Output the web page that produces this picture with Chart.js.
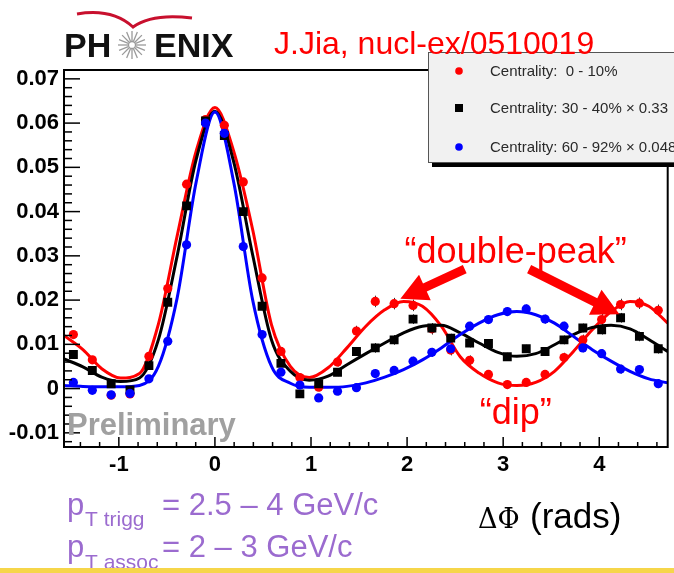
<!DOCTYPE html>
<html>
<head>
<meta charset="utf-8">
<script src="https://cdn.jsdelivr.net/npm/chart.js@4.4.0/dist/chart.umd.min.js"></script>
<style>
  html, body { margin: 0; padding: 0; background: #fff; }
  #wrap { width: 674px; height: 573px; }
</style>
</head>
<body>
<div id="wrap"><canvas id="chart" width="674" height="573"></canvas></div>
<script>
// axis range (rads) and y range
const xMin = -Math.PI / 2;
const xMax = 3 * Math.PI / 2;
const yMin = -0.0132;
const yMax = 0.0720;

// bin centres, 32 bins of pi/16
const binX = [-1.473, -1.276, -1.080, -0.884, -0.687, -0.491, -0.295, -0.098,
  0.098, 0.295, 0.491, 0.687, 0.884, 1.080, 1.276, 1.473,
  1.669, 1.865, 2.062, 2.258, 2.454, 2.651, 2.847, 3.043,
  3.240, 3.436, 3.633, 3.829, 4.025, 4.222, 4.418, 4.614];

// measured points
const central = [0.0122, 0.0065, -0.0015, -0.0012, 0.0073, 0.0226, 0.0462, 0.0608,
  0.0595, 0.0467, 0.0250, 0.0084, 0.0025, 0.0003, 0.0060, 0.0130,
  0.0197, 0.0192, 0.0188, 0.0135, 0.0087, 0.0064, 0.0032, 0.0009,
  0.0014, 0.0032, 0.0070, 0.0110, 0.0156, 0.0190, 0.0193, 0.0177];
const midCentral = [0.0077, 0.0041, 0.0011, -0.0003, 0.0052, 0.0195, 0.0413, 0.0605,
  0.0572, 0.0400, 0.0186, 0.0057, -0.0012, 0.0011, 0.0037, 0.0084,
  0.0092, 0.0110, 0.0157, 0.0137, 0.0114, 0.0103, 0.0102, 0.0072,
  0.0090, 0.0084, 0.0110, 0.0137, 0.0133, 0.0160, 0.0118, 0.0090];
const peripheral = [0.0014, -0.0004, -0.0014, -0.0011, 0.0022, 0.0107, 0.0325, 0.0600,
  0.0577, 0.0321, 0.0122, 0.0037, 0.0008, -0.0021, -0.0006, 0.0002,
  0.0034, 0.0041, 0.0062, 0.0082, 0.0090, 0.0141, 0.0156, 0.0174,
  0.0180, 0.0157, 0.0141, 0.0092, 0.0079, 0.0044, 0.0043, 0.0011];

// error bars
const errCentral = [0.0008, 0.0008, 0.0008, 0.0008, 0.0008, 0.0008, 0.0008, 0.0008,
  0.0008, 0.0008, 0.0008, 0.0008, 0.0008, 0.0009, 0.0010, 0.0012,
  0.0013, 0.0013, 0.0013, 0.0013, 0.0012, 0.0011, 0.0010, 0.0010,
  0.0010, 0.0010, 0.0011, 0.0012, 0.0013, 0.0013, 0.0013, 0.0013];
const errMid = [0.0007, 0.0007, 0.0007, 0.0007, 0.0007, 0.0007, 0.0007, 0.0007,
  0.0007, 0.0007, 0.0007, 0.0007, 0.0007, 0.0008, 0.0009, 0.0010,
  0.0011, 0.0011, 0.0011, 0.0011, 0.0010, 0.0010, 0.0009, 0.0009,
  0.0009, 0.0009, 0.0010, 0.0010, 0.0011, 0.0011, 0.0011, 0.0011];
const errPeriph = [0.0008, 0.0008, 0.0008, 0.0008, 0.0008, 0.0008, 0.0008, 0.0008,
  0.0008, 0.0008, 0.0008, 0.0008, 0.0008, 0.0008, 0.0009, 0.0009,
  0.0010, 0.0010, 0.0010, 0.0010, 0.0010, 0.0010, 0.0010, 0.0010,
  0.0010, 0.0010, 0.0010, 0.0010, 0.0010, 0.0010, 0.0010, 0.0010];

// fit curves read at bin edges
const fitX = [-1.571, -1.374, -1.178, -0.982, -0.785, -0.589, -0.393, -0.196, 0,
  0.196, 0.393, 0.589, 0.785, 0.982, 1.178, 1.374, 1.571,
  1.767, 1.963, 2.160, 2.356, 2.553, 2.749, 2.945, 3.142,
  3.338, 3.534, 3.731, 3.927, 4.123, 4.320, 4.516, 4.712];
const fitCentral = [0.0120, 0.0088, 0.0045, 0.0024, 0.0034, 0.0145, 0.0345, 0.0536, 0.0635,
  0.0536, 0.0359, 0.0144, 0.0050, 0.0025, 0.0047, 0.0092, 0.0141,
  0.0178, 0.0197, 0.0186, 0.0141, 0.0072, 0.0035, 0.0013, 0.0007,
  0.0014, 0.0039, 0.0084, 0.0133, 0.0174, 0.0197, 0.0186, 0.0148];
const fitMid = [0.0067, 0.0049, 0.0026, 0.0016, 0.0024, 0.0110, 0.0300, 0.0517, 0.0627,
  0.0512, 0.0302, 0.0110, 0.0039, 0.0019, 0.0028, 0.0054, 0.0079,
  0.0103, 0.0126, 0.0141, 0.0143, 0.0126, 0.0103, 0.0082, 0.0073,
  0.0079, 0.0099, 0.0122, 0.0138, 0.0143, 0.0135, 0.0111, 0.0084];
const fitPeriph = [0.0007, 0.0005, 0.0004, 0.0004, 0.0007, 0.0050, 0.0205, 0.0466, 0.0625,
  0.0466, 0.0200, 0.0050, 0.0012, 0.0003, 0.0003, 0.0005, 0.0013,
  0.0026, 0.0043, 0.0065, 0.0092, 0.0122, 0.0148, 0.0167, 0.0174,
  0.0167, 0.0148, 0.0118, 0.0088, 0.0062, 0.0039, 0.0022, 0.0013];

const labels = ['Centrality:  0 - 10%', 'Centrality: 30 - 40% \u00d7 0.33', 'Centrality: 60 - 92% \u00d7 0.048'];
const colors = ['#ff0000', '#000000', '#0000ff'];

const pts = (xs, ys) => xs.map((x, i) => ({ x: x, y: ys[i] }));

function pointSet(label, ys, errs, color, style, order) {
  return {
    label: label, data: pts(binX, ys), errs: errs,
    showLine: false, pointStyle: style, pointRadius: style === 'rect' ? 6.3 : 4.6,
    backgroundColor: color, borderColor: color, borderWidth: 0, order: order
  };
}
function fitSet(ys, color, order) {
  return {
    label: '', data: pts(fitX, ys), showLine: true, pointRadius: 0,
    borderColor: color, borderWidth: 3, cubicInterpolationMode: 'monotone',
    fill: false, order: order
  };
}

// helpers for texts
function txt(ctx, s, x, y, font, color, align) {
  ctx.font = font;
  ctx.fillStyle = color;
  ctx.textAlign = align || 'left';
  ctx.textBaseline = 'alphabetic';
  ctx.fillText(s, x, y);
}
function arrow(ctx, x0, y0, x1, y1, w, hl, hw) {
  const a = Math.atan2(y1 - y0, x1 - x0);
  const len = Math.hypot(x1 - x0, y1 - y0);
  ctx.save();
  ctx.translate(x0, y0);
  ctx.rotate(a);
  ctx.beginPath();
  ctx.moveTo(0, -w / 2);
  ctx.lineTo(len - hl, -w / 2);
  ctx.lineTo(len - hl, -hw / 2);
  ctx.lineTo(len, 0);
  ctx.lineTo(len - hl, hw / 2);
  ctx.lineTo(len - hl, w / 2);
  ctx.lineTo(0, w / 2);
  ctx.closePath();
  ctx.fill();
  ctx.restore();
}

const decor = {
  id: 'decor',
  beforeDatasetsDraw(chart) {
    const ctx = chart.ctx, xs = chart.scales.x, ys = chart.scales.y;
    ctx.save();
    ctx.strokeStyle = '#333';
    ctx.lineWidth = 1;
    chart.data.datasets.forEach(ds => {
      if (!ds.errs) return;
      ds.data.forEach((p, i) => {
        const px = Math.round(xs.getPixelForValue(p.x)) + 0.5;
        ctx.beginPath();
        ctx.moveTo(px, ys.getPixelForValue(p.y - ds.errs[i]));
        ctx.lineTo(px, ys.getPixelForValue(p.y + ds.errs[i]));
        ctx.stroke();
      });
    });
    ctx.restore();
  },
  afterDatasetsDraw(chart) {
    const ctx = chart.ctx, a = chart.chartArea, xs = chart.scales.x, ys = chart.scales.y;
    ctx.save();
    // frame
    ctx.strokeStyle = '#000';
    ctx.lineWidth = 2;
    ctx.strokeRect(a.left, a.top, a.right - a.left, a.bottom - a.top);
    // ticks pointing inside
    ctx.lineWidth = 1.5;
    for (let k = -6; k <= 36; k++) {
      const v = k * 0.002;
      if (v < yMin || v > yMax) continue;
      const py = ys.getPixelForValue(v);
      const len = (k % 5 === 0) ? 16 : 8;
      ctx.beginPath(); ctx.moveTo(a.left, py); ctx.lineTo(a.left + len, py); ctx.stroke();
    }
    for (let k = -7; k <= 23; k++) {
      const v = k * 0.2;
      if (v < xMin || v > xMax) continue;
      const px = xs.getPixelForValue(v);
      const len = (k % 5 === 0) ? 10 : 5;
      ctx.beginPath(); ctx.moveTo(px, a.bottom); ctx.lineTo(px, a.bottom - len); ctx.stroke();
    }
    ctx.restore();
  },
  afterDraw(chart) {
    const ctx = chart.ctx, xs = chart.scales.x, ys = chart.scales.y;
    const X = v => xs.getPixelForValue(v), Y = v => ys.getPixelForValue(v);
    ctx.save();

    // legend box with shadow
    ctx.fillStyle = '#000';
    ctx.fillRect(432, 56, 260, 111);
    ctx.fillStyle = '#f1f1f1';
    ctx.fillRect(428, 52, 260, 111);
    ctx.strokeStyle = '#555';
    ctx.lineWidth = 1;
    ctx.strokeRect(428.5, 52.5, 260, 110);
    const rows = [71, 108, 147];
    const ptDs = chart.data.datasets.filter(d => d.errs);
    ptDs.forEach((d, i) => {
      ctx.fillStyle = d.backgroundColor;
      if (d.pointStyle === 'rect') {
        ctx.fillRect(455, rows[i] - 4, 8, 8);
      } else {
        ctx.beginPath(); ctx.arc(459, rows[i], 3.8, 0, Math.PI * 2); ctx.fill();
      }
      txt(ctx, d.label, 490, rows[i] + 5, '15px "Liberation Sans", Arial, sans-serif', '#2a2a2a');
    });

    // PHENIX logo
    txt(ctx, 'PH', 64, 57, 'bold 34px "Liberation Sans", Arial, sans-serif', '#111');
    txt(ctx, 'ENIX', 154, 57, 'bold 34px "Liberation Sans", Arial, sans-serif', '#111');
    ctx.strokeStyle = '#9a9a9a';
    ctx.lineWidth = 1.3;
    for (let k = 0; k < 16; k++) {
      const t = k * Math.PI / 8;
      ctx.beginPath();
      ctx.moveTo(132 + 4 * Math.cos(t), 45 + 4 * Math.sin(t));
      ctx.lineTo(132 + 14 * Math.cos(t), 45 + 14 * Math.sin(t));
      ctx.stroke();
    }
    ctx.beginPath(); ctx.arc(132, 45, 3.5, 0, Math.PI * 2); ctx.stroke();
    ctx.strokeStyle = '#c8102e';
    ctx.lineWidth = 3;
    ctx.beginPath();
    ctx.moveTo(77, 14);
    ctx.quadraticCurveTo(112, 8, 133, 27);
    ctx.quadraticCurveTo(152, 13, 192, 18);
    ctx.stroke();

    // reference
    txt(ctx, 'J.Jia, nucl-ex/0510019', 274, 54, '32px "Liberation Sans", Arial, sans-serif', '#ff0000');

    // annotations inside the frame
    txt(ctx, 'Preliminary', 67, 435, 'bold 31px "Liberation Sans", Arial, sans-serif', '#a0a0a0');
    txt(ctx, '\u201cdouble-peak\u201d', X(3.13), Y(0.0283), '36px "Liberation Sans", Arial, sans-serif', '#ff0000', 'center');
    txt(ctx, '\u201cdip\u201d', X(3.13), Y(-0.0079), '36px "Liberation Sans", Arial, sans-serif', '#ff0000', 'center');
    ctx.fillStyle = '#ff0000';
    arrow(ctx, X(2.60), Y(0.0270), X(1.93), Y(0.0203), 9, 27, 28);
    arrow(ctx, X(3.27), Y(0.0270), X(4.21), Y(0.0168), 9, 27, 28);

    // kinematic cuts
    const purple = '#9b6bcf';
    const big = '31px "Liberation Sans", Arial, sans-serif';
    const small = '21px "Liberation Sans", Arial, sans-serif';
    txt(ctx, 'p', 67, 515, big, purple);
    txt(ctx, 'T trigg', 85, 526, small, purple);
    txt(ctx, '= 2.5 \u2013 4 GeV/c', 162, 515, big, purple);
    txt(ctx, 'p', 67, 557, big, purple);
    txt(ctx, 'T assoc', 85, 569, small, purple);
    txt(ctx, '= 2 \u2013 3 GeV/c', 162, 557, big, purple);

    // axis title
    txt(ctx, '\u0394\u03a6', 478, 528, '27px "DejaVu Serif", serif', '#000');
    txt(ctx, '(rads)', 530, 528, '35px "Liberation Sans", Arial, sans-serif', '#000');

    // slide separator
    ctx.fillStyle = '#f6d64a';
    ctx.fillRect(0, 568, 674, 5);
    ctx.restore();
  }
};

const tickFont = { family: '"Liberation Sans", Arial, sans-serif', weight: 'bold', size: 22 };

new Chart(document.getElementById('chart'), {
  type: 'scatter',
  data: {
    datasets: [
      pointSet(labels[0], central, errCentral, colors[0], 'circle', 3),
      pointSet(labels[1], midCentral, errMid, colors[1], 'rect', 2),
      pointSet(labels[2], peripheral, errPeriph, colors[2], 'circle', 1),
      fitSet(fitCentral, colors[0], 6),
      fitSet(fitMid, colors[1], 5),
      fitSet(fitPeriph, colors[2], 4)
    ]
  },
  options: {
    responsive: false,
    animation: false,
    devicePixelRatio: 1,
    layout: { padding: { top: 70, right: 4, left: 0, bottom: 0 } },
    plugins: { legend: { display: false }, tooltip: { enabled: false } },
    scales: {
      x: {
        type: 'linear', min: xMin, max: xMax,
        grid: { display: false, drawTicks: false }, border: { display: false },
        ticks: {
          stepSize: 1, includeBounds: false, padding: 5, maxRotation: 0,
          color: '#000', font: tickFont,
          callback: v => String(Math.round(v))
        },
        afterFit: s => { s.height = 126; }
      },
      y: {
        type: 'linear', min: yMin, max: yMax,
        grid: { display: false, drawTicks: false }, border: { display: false },
        ticks: {
          stepSize: 0.01, includeBounds: false, padding: 5,
          color: '#000', font: tickFont,
          callback: v => { const r = Math.round(v * 100) / 100; return r === 0 ? '0' : r.toFixed(2); }
        },
        afterFit: s => { s.width = 64; }
      }
    }
  },
  plugins: [decor]
});
</script>
</body>
</html>
